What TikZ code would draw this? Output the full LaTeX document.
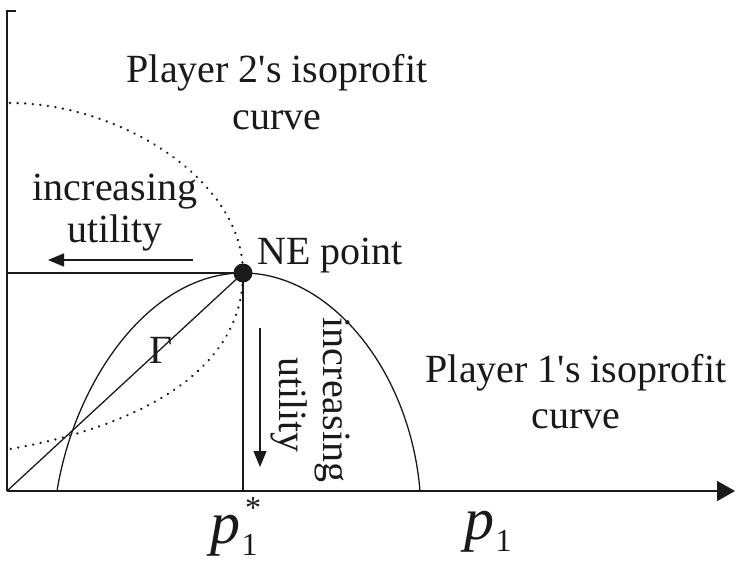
\documentclass[tikz,border=0pt]{standalone}
\usepackage{fontspec}
\setmainfont{Liberation Serif}
\usetikzlibrary{arrows.meta, positioning, calc}
\definecolor{inkBlack}{HTML}{1A1A1A}
\tikzset{
  axisLine/.style={line width=1.8pt, draw=inkBlack},
  curveSolid/.style={line width=1.3pt, draw=inkBlack},
  curveDotted/.style={line width=2.6pt, draw=inkBlack, line cap=round,
                      dash pattern=on 0.01pt off 7.6pt},
  arrowU/.style={-{Triangle[length=16pt, width=13pt]}, line width=1.4pt, draw=inkBlack},
  nedot/.style={circle, fill=inkBlack, inner sep=0pt, minimum size=19pt},
  lbl/.style={font=\fontsize{40}{48}\selectfont, inner sep=0pt, text=inkBlack},
  plbl/.style={font=\fontsize{60}{60}\selectfont\itshape, inner sep=0pt, text=inkBlack},
  sublbl/.style={font=\fontsize{32}{32}\selectfont, inner sep=0pt, text=inkBlack},
}
\begin{document}
\begin{tikzpicture}[x=1pt, y=-1pt]
  \useasboundingbox (0,0) rectangle (736,562);
  % axes
  \coordinate (o) at (7,491);
  \coordinate (ytop) at (7,11);
  \coordinate (xend) at (735,491);
  \draw[axisLine] (16,11) -- (ytop) -- (o);
  \draw[axisLine, -{Triangle[length=18pt, width=20pt]}] (o) -- (xend);
  % NE point and its projections
  \coordinate (neC) at (243,273);
  \draw[curveSolid] (o |- neC) -- (neC);
  \draw[curveSolid] (neC) -- (neC |- o);
  \draw[curveSolid] (o) -- (neC);
  % player 1's isoprofit curve
  \draw[curveSolid] (57,491) .. controls (75,380) and (150,273) .. (neC)
    .. controls (330,273) and (410,370) .. (420,491);
  % player 2's isoprofit curve
  \draw[curveDotted] (10,103) .. controls (120,103) and (243,180) .. (neC)
    .. controls (243,380) and (120,430) .. (10,449);
  \node[nedot] (ne) at (neC) {};
  % utility arrows
  \coordinate (hA) at (193,260);
  \coordinate (hB) at (48,260);
  \coordinate (vA) at (260,328);
  \coordinate (vB) at (260,467);
  \draw[arrowU] (hA) -- (hB);
  \draw[arrowU] (vA) -- (vB);
  % labels
  \node[lbl, anchor=base] (p2a) at (277,82) {Player 2\textquotesingle s isoprofit};
  \node[lbl, anchor=base] (p2b) at (277,129) {curve};
  \node[lbl, anchor=base] (p1a) at (576,382) {Player 1\textquotesingle s isoprofit};
  \node[lbl, anchor=base] (p1b) at (576,428) {curve};
  \node[lbl, anchor=base] (incH) at (115,200) {increasing};
  \node[lbl, anchor=base] (utH) at (115,242) {utility};
  \node[lbl, anchor=base, rotate=-90] (incV) at (323,400) {increasing};
  \node[lbl, anchor=base, rotate=-90] (utV) at (279,405) {utility};
  \node[lbl, anchor=base west] (nelbl) at (257,264) {NE point};
  \node[lbl] (gam) at (161,350) {Γ};
  % price labels
  \node[plbl, anchor=base west] (pstar) at (210,543) {p};
  \node[sublbl, anchor=base west] (pstarsub) at ($(pstar.base east)+(1,12)$) {1};
  \node[sublbl, anchor=center] (star) at (253,508) {*};
  \node[plbl, anchor=base west] (pone) at (464,539) {p};
  \node[sublbl, anchor=base west] (ponesub) at ($(pone.base east)+(1,12)$) {1};
\end{tikzpicture}
\end{document}
